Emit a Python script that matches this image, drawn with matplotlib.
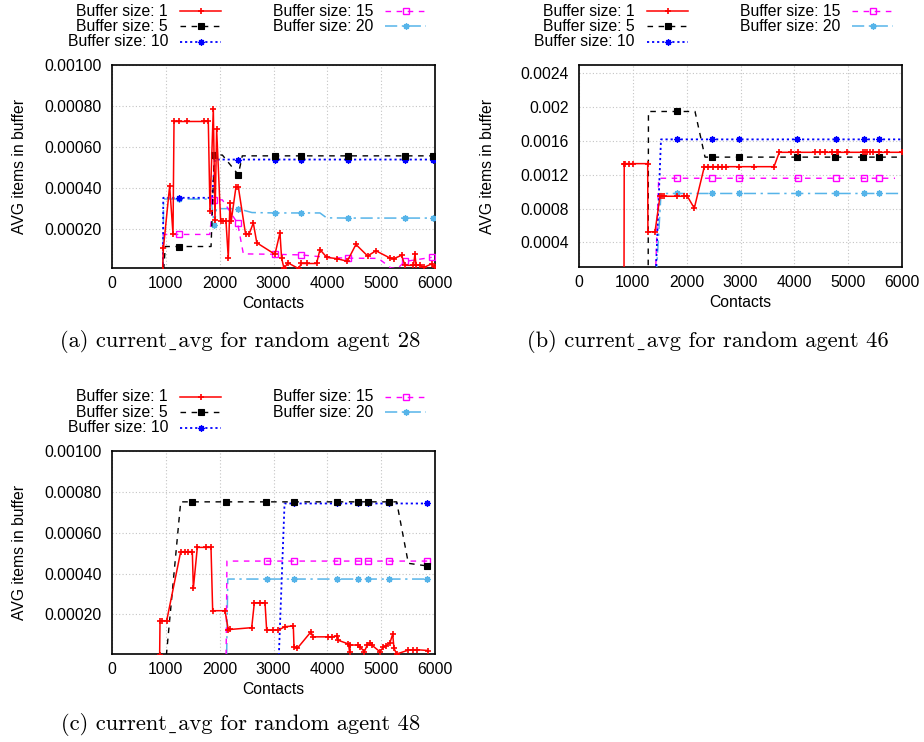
import matplotlib
matplotlib.use("Agg")
import matplotlib.pyplot as plt
from matplotlib.lines import Line2D

W, H = 924, 742
plt.rcParams['font.family'] = ['Liberation Sans', 'DejaVu Sans']

labels = ["Buffer size: 1", "Buffer size: 5", "Buffer size: 10", "Buffer size: 15", "Buffer size: 20"]
xticks = [0, 1000, 2000, 3000, 4000, 5000, 6000]
yticks_ac = [0.0002, 0.0004, 0.0006, 0.0008, 0.0010]
yticklabels_ac = ["0.00020", "0.00040", "0.00060", "0.00080", "0.00100"]
yticks_b = [0.0004, 0.0008, 0.0012, 0.0016, 0.0020, 0.0024]
yticklabels_b = ["0.0004", "0.0008", "0.0012", "0.0016", "0.002", "0.0024"]
captions = ["(a) current\u02cdavg for random agent 28",
            "(b) current\u02cdavg for random agent 46",
            "(c) current\u02cdavg for random agent 48"]

# ---------------- (a) agent 28 ----------------
a_x1 = [940, 955, 1071, 1133, 1152, 1240, 1387, 1715, 1789, 1820, 1882, 1913, 1944, 2018, 2068, 2117,
        2160, 2191, 2215, 2303, 2346, 2482, 2544, 2625, 2690, 3027, 3120, 3150, 3194, 3270, 3473, 3510,
        3615, 3800, 3863, 3990, 4172, 4370, 4531, 4748, 4903, 5162, 5237, 5379, 5441, 5600, 5627, 5650,
        5720, 5794, 5937, 5998]
a_y1 = [0, 0.000105, 0.000409, 0.000174, 0.000724, 0.000724, 0.000724, 0.000724, 0.000724, 0.000286,
        0.000787, 0.000245, 0.000685, 0.000238, 0.000238, 0.000238, 0.000057, 0.000328, 0.000238,
        0.000405, 0.000405, 0.000172, 0.000172, 0.000228, 0.000131, 0.000075, 0.000180, 0.000057,
        0.000007, 0.000033, 0.000004, 0.000030, 0.000030, 0.000030, 0.000098, 0.000060, 0.000054,
        0.000041, 0.000123, 0.000067, 0.000092, 0.000057, 0.000054, 0.000070, 0.000021, 0.000021,
        0.000074, 0.000021, 0.000021, 0.000011, 0.000028, 0.000011]
a_x5 = [960, 990, 1250, 1840, 1900, 2050, 2346, 2420, 3027, 3516, 4389, 5447, 5955, 6000]
a_y5 = [0, 0.000113, 0.000113, 0.000113, 0.000560, 0.000560, 0.000464, 0.000556, 0.000556, 0.000556,
        0.000556, 0.000556, 0.000556, 0.000556]
a_m5 = [2, 4, 6, 8, 9, 10, 11, 12]
a_x10 = [947, 952, 1248, 1860, 1910, 2334, 3027, 3516, 4389, 5447, 5955, 6000]
a_y10 = [0, 0.000351, 0.000351, 0.000351, 0.000538, 0.000538, 0.000538, 0.000538, 0.000538, 0.000538,
         0.000538, 0.000538]
a_m10 = [2, 5, 6, 7, 8, 9, 10]
a_x15 = [950, 957, 1244, 1815, 1880, 1900, 2050, 2334, 2440, 3027, 3511, 4000, 4378, 4950, 5180, 5300,
         5443, 5938]
a_y15 = [0, 0.000172, 0.000172, 0.000172, 0.000341, 0.000341, 0.000341, 0.000226, 0.000077, 0.000075,
         0.000072, 0.000060, 0.000056, 0.000055, 0.000008, 0.000005, 0.000040, 0.000060]
a_m15 = [2, 5, 7, 9, 10, 12, 16, 17]
a_x20 = [950, 957, 1244, 1840, 1900, 1940, 2334, 2600, 3027, 3516, 3863, 3987, 4389, 5447, 5955, 6000]
a_y20 = [0, 0.000345, 0.000345, 0.000345, 0.000216, 0.000298, 0.000298, 0.000279, 0.000277, 0.000277,
         0.000277, 0.000253, 0.000252, 0.000252, 0.000252, 0.000252]
a_m20 = [2, 4, 6, 8, 9, 12, 13, 14]

# ---------------- (b) agent 46 ----------------
b_x1 = [836, 840, 854, 935, 1009, 1276, 1280, 1412, 1505, 1536, 1579, 1826, 1950, 2012, 2142, 2328,
        2402, 2495, 2588, 2650, 2730, 2978, 3245, 3622, 3721, 3944, 4068, 4384, 4477, 4570, 4705, 4787,
        4817, 4984, 5281, 5313, 5356, 5406, 5456, 5573, 5716, 6000]
b_y1 = [0, 0.001333, 0.001333, 0.001333, 0.001333, 0.001333, 0.000526, 0.000526, 0.000951, 0.000947,
        0.000947, 0.000947, 0.000947, 0.000947, 0.000806, 0.001297, 0.001297, 0.001297, 0.001297,
        0.001297, 0.001297, 0.001297, 0.001297, 0.001297, 0.001467, 0.001467, 0.001467, 0.001467,
        0.001467, 0.001467, 0.001467, 0.001467, 0.001467, 0.001467, 0.001467, 0.001467, 0.001467,
        0.001467, 0.001467, 0.001467, 0.001467, 0.001467]
b_x5 = [1285, 1290, 1826, 2155, 2341, 2477, 2978, 4056, 4756, 5282, 5579, 6000]
b_y5 = [0, 0.00195, 0.00195, 0.00195, 0.00141, 0.00141, 0.00141, 0.00141, 0.00141, 0.00141, 0.00141,
        0.00141]
b_m5 = [2, 5, 6, 7, 8, 9, 10]
b_x10 = [1425, 1523, 1826, 2477, 2978, 4056, 4768, 5294, 5573, 6000]
b_y10 = [0, 0.00162, 0.00162, 0.00162, 0.00162, 0.00162, 0.00162, 0.00162, 0.00162, 0.00162]
b_m10 = [2, 3, 4, 5, 6, 7, 8]
b_x15 = [1420, 1480, 1826, 2477, 2978, 4068, 4768, 5294, 5573, 5870]
b_y15 = [0, 0.00116, 0.00116, 0.00116, 0.00116, 0.00116, 0.00116, 0.00116, 0.00116, 0.00116]
b_m15 = [2, 3, 4, 5, 6, 7, 8]
b_x20 = [1435, 1523, 1826, 2477, 2978, 4068, 4768, 5294, 5573, 6000]
b_y20 = [0, 0.00098, 0.00098, 0.00098, 0.00098, 0.00098, 0.00098, 0.00098, 0.00098, 0.00098]
b_m20 = [2, 3, 4, 5, 6, 7, 8]

# ---------------- (c) agent 48 ----------------
c_x1 = [885, 892, 923, 1016, 1276, 1356, 1418, 1492, 1511, 1585, 1746, 1839, 1870, 2099, 2161, 2192,
        2595, 2644, 2749, 2842, 2873, 2997, 3090, 3214, 3368, 3381, 3443, 3697, 3728, 4006, 4080, 4185,
        4195, 4393, 4412, 4430, 4578, 4607, 4687, 4742, 4792, 4824, 4978, 5040, 5090, 5164, 5214, 5238,
        5288, 5505, 5598, 5660, 5876]
c_y1 = [0, 0.000169, 0.000169, 0.000169, 0.000507, 0.000507, 0.000507, 0.000507, 0.000327, 0.000528,
        0.000528, 0.000528, 0.000218, 0.000218, 0.000123, 0.000126, 0.000135, 0.000257, 0.000257,
        0.000257, 0.000123, 0.000123, 0.000123, 0.000140, 0.000143, 0.000042, 0.000034, 0.000115,
        0.000090, 0.000090, 0.000090, 0.000094, 0.000074, 0.000055, 0.000017, 0.000050, 0.000050,
        0.000042, 0.000017, 0.000050, 0.000058, 0.000050, 0.000017, 0.000040, 0.000045, 0.000061,
        0.000104, 0.000034, 0.000006, 0.000025, 0.000027, 0.000027, 0.000023]
c_x5 = [1010, 1276, 1480, 2112, 2861, 3381, 4185, 4576, 4762, 5151, 5288, 5505, 5857]
c_y5 = [0, 0.000751, 0.000751, 0.000751, 0.000751, 0.000751, 0.000751, 0.000751, 0.000751, 0.000751,
        0.000751, 0.000450, 0.000437]
c_m5 = [2, 3, 4, 5, 6, 7, 8, 9, 12]
c_x10 = [3100, 3205, 3381, 4185, 4576, 4762, 5151, 5857]
c_y10 = [0, 0.000743, 0.000743, 0.000743, 0.000743, 0.000743, 0.000743, 0.000743]
c_m10 = [2, 3, 4, 5, 6, 7]
c_x15 = [2120, 2135, 2873, 3381, 4185, 4576, 4762, 5151, 5857]
c_y15 = [0, 0.000461, 0.000461, 0.000461, 0.000461, 0.000461, 0.000461, 0.000461, 0.000461]
c_m15 = [2, 3, 4, 5, 6, 7, 8]
c_x20 = [2130, 2150, 2873, 3381, 4185, 4576, 4762, 5151, 5857]
c_y20 = [0, 0.000373, 0.000373, 0.000373, 0.000373, 0.000373, 0.000373, 0.000373, 0.000373]
c_m20 = [2, 3, 4, 5, 6, 7, 8]

STAR = (8, 2, 0)
styles = [
    dict(color='#ff0000', ls='-', lw=1.1, marker='+', ms=5, mew=1.2),
    dict(color='#000000', ls=(0, (4, 4)), lw=1.0, marker='s', ms=5, mew=0.8),
    dict(color='#0000ff', ls=(0, (1.2, 1.6)), lw=1.3, marker=STAR, ms=4.5, mew=1.0),
    dict(color='#ff00ff', ls=(0, (4, 4)), lw=1.0, marker='s', ms=5, mew=1.0, mfc='none'),
    dict(color='#56b4e9', ls=(0, (8, 3, 1.5, 3)), lw=1.1, marker=STAR, ms=4.5, mew=1.0),
]

fig = plt.figure(figsize=(W / 100, H / 100), dpi=100)
FS = 11.3


def fx(px):
    return px / W


def fy(py):
    return 1 - py / H


def make_axes(left, top, right, bottom, ylim, yticks, yticklabels, series, caption, cap_y):
    ax = fig.add_axes([fx(left), fy(bottom), fx(right) - fx(left), (bottom - top) / H])
    for i, (xs, ys, mk) in enumerate(series):
        st = dict(styles[i])
        ax.plot(xs, ys, markevery=mk, clip_on=True, zorder=3 + (5 - i) * 0.1, **st)
    ax.set_xlim(0, 6000)
    ax.set_ylim(*ylim)
    ax.set_xticks(xticks)
    ax.set_xticklabels([str(t) for t in xticks])
    ax.set_yticks(yticks)
    ax.set_yticklabels(yticklabels)
    ax.tick_params(axis='both', length=0, labelsize=FS)
    ax.tick_params(axis='x', pad=6)
    ax.tick_params(axis='y', pad=7.5)
    ax.grid(True, color='#c4c4c4', ls=(0, (1, 2)), lw=0.8)
    for s in ax.spines.values():
        s.set_linewidth(1.2)
    cx = (left + right) / 2
    cy = (top + bottom) / 2
    fig.text(fx(left - 92), fy(cy), "AVG items in buffer", rotation=90, ha='center', va='center',
             fontsize=FS)
    fig.text(fx(cx), fy(bottom + 36), "Contacts", ha='center', va='center', fontsize=FS)
    fig.text(fx(cx - 33), fy(cap_y), caption, ha='center', va='center', fontsize=16.2,
             family=['cmr10', 'DejaVu Serif'])
    # legend (gnuplot style: text then sample, right aligned in 2 columns)
    rows = [top - 54, top - 38.6, top - 23.2]
    cols = [left + 56, left + 261]
    slots = [(0, 0), (0, 1), (0, 2), (1, 0), (1, 1)]
    for i, (c, r) in enumerate(slots):
        tx = cols[c]
        ty = rows[r]
        fig.text(fx(tx), fy(ty), labels[i], ha='right', va='center', fontsize=FS)
        st = dict(styles[i])
        x0, x1 = tx + 12, tx + 53
        ln = Line2D([fx(x0), fx(x1)], [fy(ty), fy(ty)], transform=fig.transFigure,
                    color=st['color'], ls=st['ls'], lw=st['lw'])
        fig.add_artist(ln)
        mk = Line2D([fx((x0 + x1) / 2)], [fy(ty)], transform=fig.transFigure, ls='none',
                    color=st['color'], marker=st['marker'], ms=st['ms'], mew=st['mew'],
                    mfc=st.get('mfc', st['color']))
        fig.add_artist(mk)
    return ax


red_mk = None
make_axes(112, 65, 435, 268, (0.000008, 0.001), yticks_ac, yticklabels_ac,
          [(a_x1, a_y1, red_mk), (a_x5, a_y5, a_m5), (a_x10, a_y10, a_m10),
           (a_x15, a_y15, a_m15), (a_x20, a_y20, a_m20)], captions[0], 341)
make_axes(579, 65, 902, 267, (0.00011, 0.0025), yticks_b, yticklabels_b,
          [(b_x1, b_y1, red_mk), (b_x5, b_y5, b_m5), (b_x10, b_y10, b_m10),
           (b_x15, b_y15, b_m15), (b_x20, b_y20, b_m20)], captions[1], 341)
make_axes(112, 451, 435, 654, (0.000006, 0.001), yticks_ac, yticklabels_ac,
          [(c_x1, c_y1, red_mk), (c_x5, c_y5, c_m5), (c_x10, c_y10, c_m10),
           (c_x15, c_y15, c_m15), (c_x20, c_y20, c_m20)], captions[2], 725)

fig.savefig("out.png", dpi=100)
